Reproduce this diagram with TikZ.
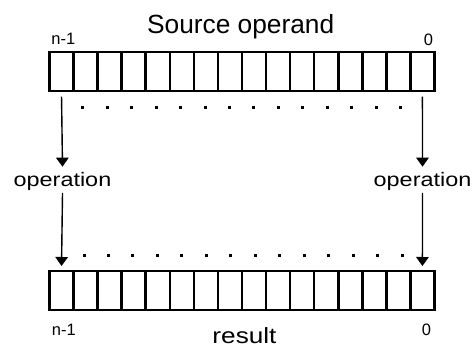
\documentclass[tikz,border=0pt]{standalone}
\usepackage{fontspec}
\usepackage{graphicx}
\setmainfont{Liberation Sans}
\usetikzlibrary{arrows.meta}
\begin{document}
\begin{tikzpicture}[x=1pt,y=-1pt,
  cell/.style={draw,line width=2.6pt,minimum width=24.06pt,minimum height=39pt,inner sep=0pt,outer sep=0pt},
  arr/.style={line width=1.4pt,-{Triangle[width=12.5pt,length=9pt]}},
  lbl/.style={inner sep=0pt,anchor=base}]
\useasboundingbox (0,0) rectangle (473,347);
\foreach \i in {1,...,16} {
  \node[cell] (t\i) at ({61.53+24.06*(\i-1)},71.5) {};
  \node[cell] (b\i) at ({61.53+24.06*(\i-1)},290.5) {};
}
\foreach \k in {0,...,13} {
  \fill ({82.7+24.46*\k-1.5},106.5) rectangle ++(3,3);
  \fill ({84+24.48*\k-1.5},253.5) rectangle ++(3,3);
}
\node[lbl] (src) at (240.7,33.3) {\fontsize{26.3}{26.3}\selectfont Source operand};
\node[lbl] (res) at (244.5,343) {\fontsize{22}{22}\selectfont\scalebox{1.19}[1]{result}};
\node[lbl] (tn) at (63.3,45) {\fontsize{16.5}{16.5}\selectfont n-1};
\node[lbl] (tz) at (428.5,45.5) {\fontsize{16.5}{16.5}\selectfont 0};
\node[lbl] (bn) at (63.8,335) {\fontsize{16.5}{16.5}\selectfont n-1};
\node[lbl] (bz) at (426.5,335) {\fontsize{16.5}{16.5}\selectfont 0};
\node[lbl] (opl) at (62.5,186.7) {\fontsize{19.5}{19.5}\selectfont\scalebox{1.2}[1]{operation}};
\node[lbl] (opr) at (422.5,186.7) {\fontsize{19.5}{19.5}\selectfont\scalebox{1.2}[1]{operation}};
\draw[arr] ([yshift=-5.7pt]t1.south) -- ([yshift=5.7pt]opl.north);
\draw[arr] ([yshift=-5.7pt]t16.south) -- ([yshift=5.7pt]opr.north);
\draw[arr] ([yshift=-2pt]opl.south) -- ([yshift=5pt]b1.north);
\draw[arr] ([yshift=-2pt]opr.south) -- ([yshift=5pt]b16.north);
\end{tikzpicture}
\end{document}
